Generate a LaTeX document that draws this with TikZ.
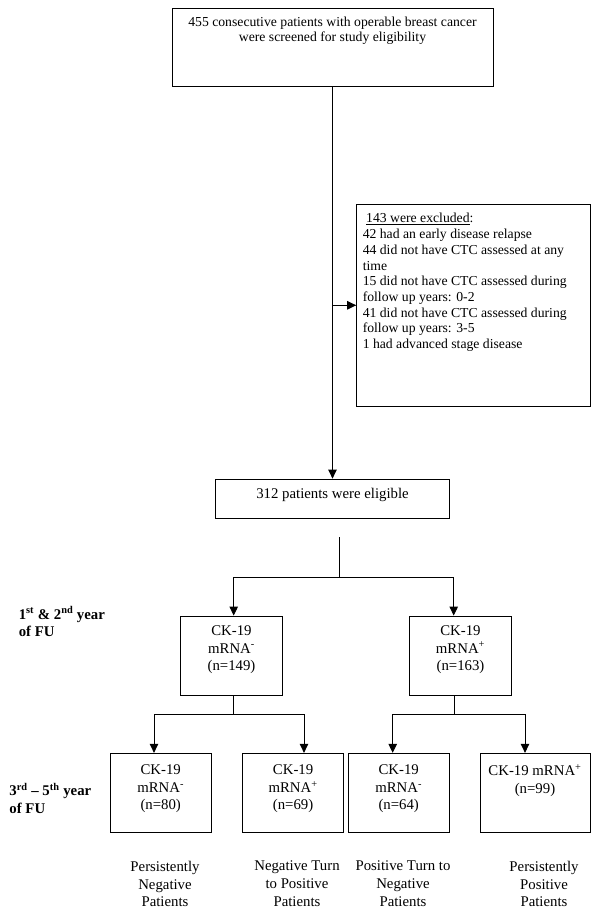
\documentclass[tikz,border=0pt]{standalone}
\usepackage{fontspec}
\setmainfont{Liberation Serif}
\usetikzlibrary{arrows.meta,positioning}

\begin{document}
\begin{tikzpicture}[x=1pt,y=-1pt,line width=0.9pt,
        >={Triangle[length=9pt,width=8.5pt]},
        box/.style={draw, inner sep=0pt},
        txt/.style={inner sep=0pt, align=center, font=\fontsize{14.8}{17.6}\selectfont},
        smalltxt/.style={inner sep=0pt, font=\fontsize{13.7}{15.7}\selectfont},
        sidelbl/.style={inner sep=0pt, align=left, anchor=north west, font=\fontsize{14.8}{17.6}\selectfont\bfseries}]
        \useasboundingbox (0,0) rectangle (600,912);

        \node[box, minimum width=321pt, minimum height=78pt] (screen) at (332.5,47) {};
        \node[smalltxt, align=center, below=8.5pt of screen.north] (screentxt) {455 consecutive patients with operable breast cancer\\were screened for study eligibility};

        \node[box, minimum width=233.3pt, minimum height=202.7pt] (excl) at (473.3,305.3) {};
        \node[smalltxt, align=left, anchor=north west] (excltxt) at (362.3,213) {\ \underline{143 were excluded}:\\42 had an early disease relapse\\44 did not have CTC assessed at any\\time\\15 did not have CTC assessed during\\follow up years: 0-2\\41 did not have CTC assessed during\\follow up years: 3-5\\1 had advanced stage disease};

        \node[box, minimum width=233.6pt, minimum height=39.3pt] (elig) at (332.5,498.7) {};
        \node[txt, anchor=base] (eligtxt) at (332.5,498.3) {312 patients were eligible};

        \node[box, minimum width=102.4pt, minimum height=79pt] (neg) at (231.5,655.5) {};
        \node[txt, below=9.6pt of neg.north] (negtxt) {CK-19\\mRNA\textsuperscript{-}\\(n=149)};
        \node[box, minimum width=101.6pt, minimum height=79pt] (pos) at (460.5,655.5) {};
        \node[txt, below=9.6pt of pos.north] (postxt) {CK-19\\mRNA\textsuperscript{+}\\(n=163)};

        \node[box, minimum width=101.3pt, minimum height=79pt] (negneg) at (160.7,792.8) {};
        \node[txt, below=11.6pt of negneg.north] (negnegtxt) {CK-19\\mRNA\textsuperscript{-}\\(n=80)};
        \node[box, minimum width=101.3pt, minimum height=79pt] (negpos) at (293.1,792.8) {};
        \node[txt, below=11.6pt of negpos.north] (negpostxt) {CK-19\\mRNA\textsuperscript{+}\\(n=69)};
        \node[box, minimum width=100.7pt, minimum height=79pt] (posneg) at (398.7,792.8) {};
        \node[txt, below=11.6pt of posneg.north] (posnegtxt) {CK-19\\mRNA\textsuperscript{-}\\(n=64)};
        \node[box, minimum width=110pt, minimum height=79pt] (pospos) at (535,792.8) {};
        \node[txt, below=11.6pt of pospos.north] (pospostxt) {CK-19 mRNA\textsuperscript{+}\\(n=99)};

        \node[txt, anchor=north] (negneglbl) at (165,860.7) {Persistently\\Negative\\Patients};
        \node[txt, anchor=north] (negposlbl) at (297,860.7) {Negative Turn\\to Positive\\Patients};
        \node[txt, anchor=north] (posneglbl) at (403,860.7) {Positive Turn to\\Negative\\Patients};
        \node[txt, anchor=north] (pospouslbl) at (544,860.7) {Persistently\\Positive\\Patients};

        \node[sidelbl] (firstfu) at (18.3,606.3) {1\textsuperscript{st} \& 2\textsuperscript{nd} year\\of FU};
        \node[sidelbl] (thirdfu) at (9,783) {3\textsuperscript{rd} -- 5\textsuperscript{th} year\\of FU};

        \draw[->] (screen) -- (elig);
        \draw[->] (screen.south |- excl.west) -- (excl.west);

        \coordinate (splittop) at (339.3,537.3);
        \coordinate (split) at (339.3,577);
        \draw (splittop) -- (split);
        \draw[->] (split) -| ([xshift=2.2pt]neg.north);
        \draw[->] (split) -| ([xshift=-6.8pt]pos.north);

        \coordinate (negsplit) at (233.7,714);
        \draw ([xshift=2.2pt]neg.south) -- (negsplit);
        \draw[->] (negsplit) -| ([xshift=-6.7pt]negneg.north);
        \draw[->] (negsplit) -| ([xshift=10.9pt]negpos.north);

        \coordinate (possplit) at (454,714);
        \draw ([xshift=-6.5pt]pos.south) -- (possplit);
        \draw[->] (possplit) -| ([xshift=-6pt]posneg.north);
        \draw[->] (possplit) -| ([xshift=-10pt]pospos.north);
    \end{tikzpicture}
\end{document}
